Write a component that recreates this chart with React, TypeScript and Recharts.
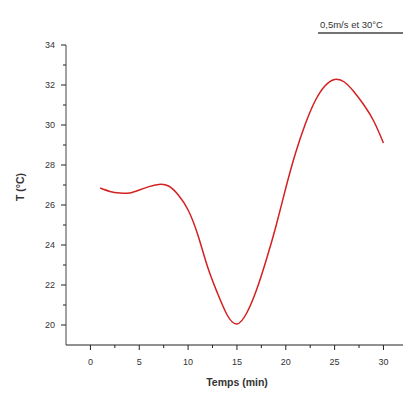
import React from "react";
import { LineChart, Line, XAxis, YAxis } from "recharts";

const timeMin = [1, 2, 3, 4, 5, 6, 7, 8, 9, 10, 11, 12, 13, 14, 15, 16, 17, 18, 19, 20, 21, 22, 23, 24, 25, 26, 27, 28, 29, 30];
const tempC = [26.85, 26.68, 26.6, 26.6, 26.75, 26.92, 27.03, 26.95, 26.5, 25.75, 24.5, 22.9, 21.6, 20.5, 20.05, 20.6, 21.75, 23.25, 24.95, 26.85, 28.6, 30.05, 31.2, 31.95, 32.28, 32.15, 31.65, 31.0, 30.2, 29.1];
const xMajorTicks = [0, 5, 10, 15, 20, 25, 30];
const xMinorTicks = [2.5, 7.5, 12.5, 17.5, 22.5, 27.5];
const yMajorTicks = [20, 22, 24, 26, 28, 30, 32, 34];
const yMinorTicks = [21, 23, 25, 27, 29, 31, 33];
const legendLabel = "0,5m/s et 30°C";

const data = timeMin.map((t, i) => ({ t, T: tempC[i] }));

const FONT = "'Liberation Sans Narrow', 'Liberation Sans', Arial, sans-serif";

const XTick = (props: any) => {
  const { x, y, payload } = props;
  const major = xMajorTicks.includes(payload.value);
  return (
    <g>
      <line x1={x} y1={y} x2={x} y2={y + (major ? 5 : 3)} stroke="#222" strokeWidth={1} />
      {major && (
        <text x={x} y={y + 20} textAnchor="middle" fontSize={9} fill="#333" fontFamily={FONT}>
          {payload.value}
        </text>
      )}
    </g>
  );
};

const YTick = (props: any) => {
  const { x, y, payload } = props;
  const major = yMajorTicks.includes(payload.value);
  return (
    <g>
      <line x1={x} y1={y} x2={x - (major ? 5 : 3)} y2={y} stroke="#222" strokeWidth={1} />
      {major && (
        <text x={x - 11} y={y + 3} textAnchor="end" fontSize={9} fill="#333" fontFamily={FONT}>
          {payload.value}
        </text>
      )}
    </g>
  );
};

export default function App() {
  return (
    <div style={{ position: "absolute", left: 0, top: 0, width: 403, height: 396, background: "#fff" }}>
      <LineChart width={403} height={396} data={data} margin={{ top: 45, right: 0, bottom: 21, left: 0 }}>
        <XAxis
          dataKey="t"
          type="number"
          domain={[-2.5, 32]}
          height={30}
          ticks={[...xMajorTicks, ...xMinorTicks].sort((a, b) => a - b)}
          tick={<XTick />}
          tickLine={false}
          tickSize={0}
          tickMargin={0}
          axisLine={{ stroke: "#222", strokeWidth: 1.2 }}
          interval={0}
          allowDataOverflow
        />
        <YAxis
          type="number"
          domain={[19, 34]}
          width={66}
          ticks={[...yMajorTicks, ...yMinorTicks].sort((a, b) => a - b)}
          tick={<YTick />}
          tickLine={false}
          tickSize={0}
          tickMargin={0}
          axisLine={{ stroke: "#444", strokeWidth: 1 }}
          interval={0}
          allowDataOverflow
        />
        <Line
          dataKey="T"
          type="natural"
          stroke="#d42020"
          strokeWidth={1.5}
          dot={false}
          isAnimationActive={false}
        />
        <text x={237} y={386} textAnchor="middle" fontSize={10.5} fontWeight="bold" fill="#333" fontFamily={FONT}>
          Temps (min)
        </text>
        <text
          x={24}
          y={187}
          textAnchor="middle"
          fontSize={10.5}
          fontWeight="bold"
          fill="#333"
          fontFamily={FONT}
          transform="rotate(-90 24 187)"
        >
          T (°C)
        </text>
        <text x={320} y={28} fontSize={9.5} fill="#333" fontFamily={FONT}>
          {legendLabel}
        </text>
        <line x1={318} y1={33} x2={403} y2={33} stroke="#444" strokeWidth={1.5} />
      </LineChart>
    </div>
  );
}
